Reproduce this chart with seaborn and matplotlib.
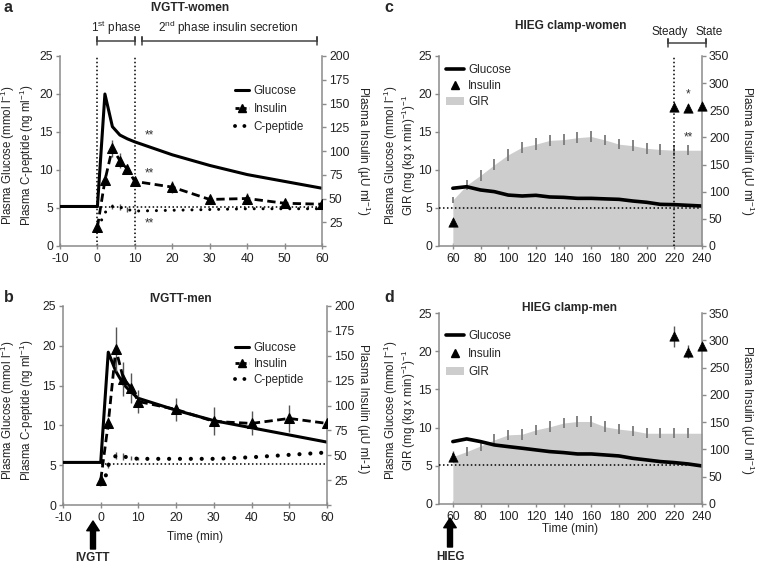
import matplotlib
matplotlib.use("Agg")
import matplotlib.pyplot as plt
import matplotlib.transforms as mtrans
from matplotlib.lines import Line2D
from matplotlib.patches import Patch
import seaborn as sns

# ---------------- data ----------------
# IVGTT (panels a, b)
t_glu_ivgtt = [-10, 0, 2, 4, 6, 8, 10, 20, 30, 40, 50, 60]
glu_women_ivgtt = [5.2, 5.2, 20.0, 15.7, 14.6, 14.1, 13.7, 12.0, 10.6, 9.4, 8.5, 7.6]
glu_men_ivgtt = [5.35, 5.35, 19.2, 16.8, 15.2, 14.2, 13.4, 11.9, 10.6, 9.7, 8.8, 7.9]

t_ins_ivgtt = [0, 2, 4, 6, 8, 10, 20, 30, 40, 50, 60]
ins_women_ivgtt = [20, 69, 103, 90, 81, 68, 62, 49, 50, 45, 44]
ins_women_ivgtt_err = [4, 5, 9, 8, 5, 4, 6, 4, 6, 3, 2]
ins_men_ivgtt = [25, 82, 157, 127, 118, 104, 96, 84, 82, 87, 82]
ins_men_ivgtt_err = [4, 6, 22, 17, 15, 12, 12, 14, 12, 14, 3]

t_cp_ivgtt = [0, 1, 2, 4, 6, 8, 10, 20, 30, 40, 50, 60]
cp_women_ivgtt = [2.4, 3.3, 4.4, 5.2, 5.1, 4.8, 4.6, 4.7, 4.8, 4.9, 4.9, 4.9]
cp_women_ivgtt_err = [0, 0, 0, 0.3, 0.4, 0.3, 0.2, 0, 0, 0, 0, 0]
cp_men_ivgtt = [2.6, 3.0, 5.0, 6.2, 6.1, 5.9, 5.8, 5.8, 5.8, 6.0, 6.3, 6.6]
cp_men_ivgtt_err = [0, 0, 0.4, 0.4, 0.4, 0.3, 0.2, 0, 0, 0, 0, 0]

ref_span_ivgtt = [0, 60]
ref_glu_women_ivgtt = 5.1
ref_glu_men_ivgtt = 5.15
phase_lines = [0, 10]
ast_x_a = 13.8
ast_y_a = [14.6, 9.5, 3.0]

# HIEG clamp (panels c, d)
t_clamp = [60, 70, 80, 90, 100, 110, 120, 130, 140, 150, 160, 170, 180, 190, 200, 210, 220, 230, 240]
gir_women = [6.05, 8.0, 9.3, 10.7, 12.0, 13.0, 13.4, 13.9, 14.0, 14.25, 14.4, 13.95, 13.4, 13.2, 12.85, 12.7, 12.6, 12.6, 12.6]
gir_women_err = [0.45, 0.65, 0.7, 0.75, 0.75, 0.75, 0.75, 0.75, 0.75, 0.75, 0.75, 0.7, 0.7, 0.7, 0.7, 0.7, 0.7, 0.65, 0]
glu_women_clamp = [7.6, 7.8, 7.37, 7.15, 6.7, 6.58, 6.67, 6.45, 6.4, 6.27, 6.27, 6.2, 6.14, 5.92, 5.75, 5.48, 5.44, 5.35, 5.26]
gir_men = [6.2, 6.86, 7.6, 8.4, 9.05, 9.13, 9.7, 10.1, 10.6, 10.8, 10.8, 10.1, 9.8, 9.6, 9.26, 9.26, 9.26, 9.26, 9.26]
gir_men_err = [0.45, 0.6, 0.65, 0.7, 0.7, 0.7, 0.7, 0.7, 0.7, 0.7, 0.7, 0.7, 0.65, 0.65, 0.65, 0.65, 0.65, 0.65, 0]
glu_men_clamp = [8.17, 8.52, 8.17, 7.73, 7.51, 7.3, 7.08, 6.86, 6.73, 6.55, 6.55, 6.42, 6.29, 5.98, 5.77, 5.55, 5.42, 5.24, 4.98]

t_ins_clamp = [60, 220, 230, 240]
ins_women_clamp = [44, 256, 254, 258]
ins_women_clamp_err = [4, 8, 8, 6]
ins_men_clamp = [87, 307, 279, 290]
ins_men_clamp_err = [10, 20, 12, 4]

ref_glu_clamp = 5.05
steady_line = 220
steady_span = [215.7, 242.7]
ast_c = [(230, 20.0, "*"), (230, 14.25, "**")]

# ---------------- style ----------------
sns.set_style("ticks")
plt.rcParams['font.family'] = ['Liberation Sans', 'DejaVu Sans']
plt.rcParams['mathtext.fontset'] = 'custom'
plt.rcParams['mathtext.rm'] = 'Liberation Sans'
plt.rcParams['mathtext.it'] = 'Liberation Sans:italic'
plt.rcParams['mathtext.bf'] = 'Liberation Sans:bold'
plt.rcParams['mathtext.default'] = 'regular'
plt.rcParams['axes.unicode_minus'] = False

W, H = 758, 566
fig = plt.figure(figsize=(W / 100, H / 100), dpi=100)


def rect(l, t, r, b):
    return [l / W, 1 - b / H, (r - l) / W, (b - t) / H]


def fx(x):
    return x / W


def fy(y):
    return 1 - y / H


SP = '#8a8a8a'
TXT = '#222222'
FS_TICK = 8.8
FS_LAB = 8.5
FS_LEG = 8.4
GIR_COL = '#cdcdcd'


def style(ax, ax2):
    ax.spines['top'].set_visible(False)
    ax.spines['right'].set_visible(False)
    ax2.spines['top'].set_visible(False)
    ax2.spines['left'].set_visible(False)
    ax2.spines['bottom'].set_visible(False)
    for sp in (ax.spines['left'], ax.spines['bottom'], ax2.spines['right']):
        sp.set_color(SP)
        sp.set_linewidth(1.1)
    ax.tick_params(axis='y', colors=SP, labelcolor=TXT, labelsize=FS_TICK, length=3, width=1, direction='out', pad=2)
    ax.tick_params(axis='x', colors=SP, labelcolor=TXT, labelsize=FS_TICK, length=4, width=1, direction='inout', pad=3)
    ax2.tick_params(axis='y', colors=SP, labelcolor=TXT, labelsize=FS_TICK, length=3, width=1, direction='out', pad=2)


def ivgtt_panel(r, glu, ins, ins_err, cp, cp_err, ref, cp_lw, cp_gap):
    ax = fig.add_axes(rect(*r))
    ax2 = ax.twinx()
    ax.plot(ref_span_ivgtt, [ref, ref], color='black', lw=1.1, ls=(0, (1, 1.6)), zorder=2)
    sns.lineplot(x=t_cp_ivgtt, y=cp, ax=ax, color='black', lw=cp_lw, errorbar=None,
                 linestyle=(0, (0.01, cp_gap)), dash_capstyle='round', legend=False, zorder=3)
    ax.errorbar(t_cp_ivgtt, cp, yerr=cp_err, fmt='none', ecolor='#555555', elinewidth=1, capsize=0)
    sns.lineplot(x=t_glu_ivgtt, y=glu, ax=ax, color='black', lw=2.2, errorbar=None, legend=False, zorder=4)
    ax2.errorbar(t_ins_ivgtt, ins, yerr=ins_err, fmt='none', ecolor='#555555', elinewidth=1, capsize=0, zorder=2)
    sns.lineplot(x=t_ins_ivgtt, y=ins, ax=ax2, color='black', lw=2.0, errorbar=None, legend=False,
                 linestyle=(0, (3, 1.6)), marker='^', markersize=6.5, markeredgecolor='black',
                 markerfacecolor='black', zorder=4)
    ax.set_xlim(-10, 60)
    ax.set_ylim(0, 25)
    ax2.set_ylim(0, 200)
    ax.set_xticks(range(-10, 61, 10))
    ax.set_yticks(range(0, 26, 5))
    ax2.set_yticks(range(0, 201, 25))
    ax2.set_yticklabels([''] + [str(v) for v in range(25, 201, 25)])
    ax.set_xlabel('')
    ax.set_ylabel('')
    ax2.set_ylabel('')
    style(ax, ax2)
    return ax, ax2


def clamp_panel(r, gir, gir_err, glu, ins, ins_err):
    ax = fig.add_axes(rect(*r))
    ax2 = ax.twinx()
    ax.fill_between(t_clamp, gir, color=GIR_COL, lw=0, zorder=1)
    ax.errorbar(t_clamp, gir, yerr=gir_err, fmt='none', ecolor='#7a7a7a', elinewidth=1.3, capsize=0, zorder=2)
    ax.axhline(ref_glu_clamp, color='black', lw=1.1, ls=(0, (1, 1.6)), zorder=3)
    sns.lineplot(x=t_clamp, y=glu, ax=ax, color='black', lw=2.6, errorbar=None, legend=False, zorder=4)
    ax2.errorbar(t_ins_clamp, ins, yerr=ins_err, fmt='none', ecolor='#555555', elinewidth=1, capsize=0, zorder=2)
    sns.scatterplot(x=t_ins_clamp, y=ins, ax=ax2, marker='^', color='black', s=45,
                    edgecolor='black', linewidth=0.5, legend=False, zorder=4, clip_on=False)
    ax.set_xlim(50, 240)
    ax.set_ylim(0, 25)
    ax2.set_ylim(0, 350)
    ax.set_xticks(range(60, 241, 20))
    ax.set_yticks(range(0, 26, 5))
    ax2.set_yticks(range(0, 351, 50))
    ax.set_xlabel('')
    ax.set_ylabel('')
    ax2.set_ylabel('')
    style(ax, ax2)
    return ax, ax2


def bracket(ax, x0, x1, yfrac, h=0.02):
    tr = mtrans.blended_transform_factory(ax.transData, ax.transAxes)
    ax.plot([x0, x0, x0, x1, x1, x1], [yfrac - h, yfrac + h, yfrac, yfrac, yfrac + h, yfrac - h],
            transform=tr, clip_on=False, color='#444444', lw=1.1)


def ivgtt_legend(ax2, x, y, spacing):
    handles = [
        Line2D([], [], color='black', lw=2.2),
        Line2D([], [], color='black', lw=2, ls=(0, (1.5, 1)), marker='^', ms=6),
        Line2D([], [], color='black', lw=2.8, ls=(0, (0.01, 2.4)), dash_capstyle='round'),
    ]
    ax2.legend(handles, ['Glucose', 'Insulin', 'C-peptide'], loc='upper left',
               bbox_to_anchor=(fx(x), fy(y)), bbox_transform=fig.transFigure, frameon=False,
               fontsize=FS_LEG, handlelength=1.2, handletextpad=0.4, labelspacing=spacing,
               borderpad=0, borderaxespad=0)


def clamp_legend(ax2, x, y, spacing):
    handles = [
        Line2D([], [], color='black', lw=2.6),
        Line2D([], [], color='black', ls='none', marker='^', ms=6),
        Patch(facecolor=GIR_COL, edgecolor='none'),
    ]
    ax2.legend(handles, ['Glucose', 'Insulin', 'GIR'], loc='upper left',
               bbox_to_anchor=(fx(x), fy(y)), bbox_transform=fig.transFigure, frameon=False,
               fontsize=FS_LEG, handlelength=1.5, handletextpad=0.4, labelspacing=spacing,
               borderpad=0, borderaxespad=0)


def arrow(x, y_tip, y_base, label, y_label):
    fig.add_artist(plt.Annotation('', xy=(fx(x), fy(y_tip)), xytext=(fx(x), fy(y_base)),
                                  xycoords='figure fraction', textcoords='figure fraction',
                                  arrowprops=dict(width=3.6, headwidth=9, headlength=7, color='black',
                                                  shrink=0)))
    fig.text(fx(x), fy(y_label), label, ha='center', va='center', fontsize=8.5, fontweight='bold')


lab_glu_cp = 'Plasma Glucose (mmol l$^{-1}$)\nPlasma C-peptide (ng ml$^{-1}$)'
lab_glu_gir = 'Plasma Glucose (mmol l$^{-1}$)\nGIR (mg (kg x min)$^{-1}$)$^{-1}$'
lab_ins = 'Plasma Insulin (\u00b5U ml$^{-1}$)'
lab_ins_b = 'Plasma Insulin (\u00b5U ml-1)'

# ---------- panel a ----------
ax_a, ax_a2 = ivgtt_panel((60, 56, 322, 246), glu_women_ivgtt, ins_women_ivgtt, ins_women_ivgtt_err,
                          cp_women_ivgtt, cp_women_ivgtt_err, ref_glu_women_ivgtt, 2.2, 2.9)
for xv in phase_lines:
    ax_a.axvline(xv, color='black', lw=1.1, ls=(0, (1, 1.6)), zorder=2)
for yv in ast_y_a:
    ax_a.text(ast_x_a, yv, '**', ha='center', va='center', fontsize=8.5, color='#333333')
bracket(ax_a, 0, 10, 1.0805)
bracket(ax_a, 12.0, 58.6, 1.0805)
tra = mtrans.blended_transform_factory(ax_a.transData, ax_a.transAxes)
ax_a.text(5, 1.147, '1$^{st}$ phase', transform=tra, ha='center', va='center', fontsize=FS_LAB, color=TXT)
ax_a.text(34.9, 1.147, '2$^{nd}$ phase insulin secretion', transform=tra, ha='center', va='center',
          fontsize=FS_LAB, color=TXT)
ivgtt_legend(ax_a2, 235, 85, 0.5)

# ---------- panel b ----------
ax_b, ax_b2 = ivgtt_panel((63, 306, 327, 505), glu_men_ivgtt, ins_men_ivgtt, ins_men_ivgtt_err,
                          cp_men_ivgtt, cp_men_ivgtt_err, ref_glu_men_ivgtt, 3.0, 2.6)
ivgtt_legend(ax_b2, 235, 342, 0.35)

# ---------- panel c ----------
ax_c, ax_c2 = clamp_panel((439, 56, 702, 246), gir_women, gir_women_err, glu_women_clamp,
                          ins_women_clamp, ins_women_clamp_err)
ax_c.axvline(steady_line, color='black', lw=1.1, ls=(0, (1, 1.6)), zorder=3)
for xv, yv, s in ast_c:
    ax_c.text(xv, yv, s, ha='center', va='center', fontsize=8.5, color='#333333', zorder=6)
bracket(ax_c, steady_span[0], steady_span[1], 1.067)
trc = mtrans.blended_transform_factory(ax_c.transData, ax_c.transAxes)
ax_c.text(217, 1.128, 'Steady', transform=trc, ha='center', va='center', fontsize=FS_LAB, color=TXT)
ax_c.text(245, 1.128, 'State', transform=trc, ha='center', va='center', fontsize=FS_LAB, color=TXT)
clamp_legend(ax_c2, 446, 64, 0.35)

# ---------- panel d ----------
ax_d, ax_d2 = clamp_panel((439, 313, 702, 504), gir_men, gir_men_err, glu_men_clamp,
                          ins_men_clamp, ins_men_clamp_err)
clamp_legend(ax_d2, 446, 330, 0.5)

# ---------- labels / titles ----------
for (x, y, s) in [(4, 8, 'a'), (4, 298, 'b'), (384, 8, 'c'), (384, 298, 'd')]:
    fig.text(fx(x), fy(y), s, ha='left', va='center', fontsize=11.5, fontweight='bold')
for (x, y, s) in [(190, 8, 'IVGTT-women'), (181, 299, 'IVGTT-men'),
                  (571, 26, 'HIEG clamp-women'), (570, 308, 'HIEG clamp-men')]:
    fig.text(fx(x), fy(y), s, ha='center', va='center', fontsize=8.6, fontweight='bold')

for (x, y, s) in [(17.5, 155, lab_glu_cp), (17.5, 410, lab_glu_cp),
                  (400, 155, lab_glu_gir), (400, 410, lab_glu_gir)]:
    fig.text(fx(x), fy(y), s, rotation=90, ha='center', va='center', fontsize=8.3,
             color=TXT, multialignment='center', linespacing=1.0)
for (x, y, s) in [(363, 151, lab_ins), (363, 409, lab_ins_b), (747, 151, lab_ins), (747, 410, lab_ins)]:
    fig.text(fx(x), fy(y), s, rotation=-90, ha='center', va='center', fontsize=FS_LAB, color=TXT)

fig.text(fx(195), fy(537), 'Time (min)', ha='center', va='center', fontsize=FS_LAB, color=TXT)
fig.text(fx(570), fy(529), 'Time (min)', ha='center', va='center', fontsize=FS_LAB, color=TXT)

arrow(93, 521, 549, 'IVGTT', 558)
arrow(450, 518, 547, 'HIEG', 557)

fig.savefig('out.png', dpi=100)
